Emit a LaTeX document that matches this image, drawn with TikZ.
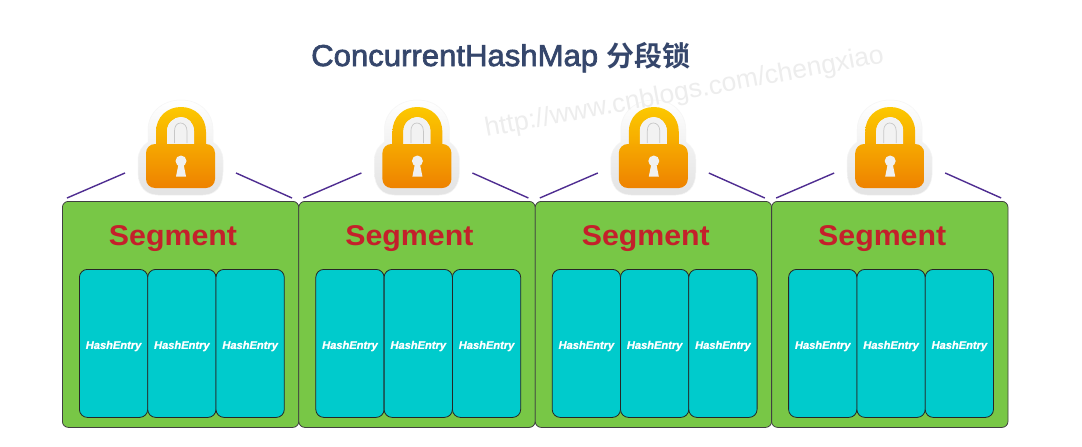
\documentclass[tikz,border=0pt]{standalone}
\usepackage{fontspec}
\setmainfont{Liberation Sans}
\newfontfamily\titlefont[FakeBold=2.2,FakeStretch=1.03]{Liberation Sans}
\newfontfamily\cjkfont{Noto Sans CJK SC Bold}
\newfontfamily\segfont[FakeStretch=1.06,BoldFont={Liberation Sans Bold}]{Liberation Sans Bold}
\newfontfamily\entryfont[FakeBold=1.2]{Liberation Sans Bold Italic}
\newcommand{\entrytext}{\raisebox{-5.5pt}[0pt][0pt]{HashEntry}}
\usetikzlibrary{calc}
\definecolor{segfill}{HTML}{78C746}
\definecolor{entryfill}{HTML}{00CBCC}
\definecolor{segred}{HTML}{C4202B}
\definecolor{titlecol}{HTML}{35466B}
\definecolor{linkcol}{HTML}{4F2D91}
\definecolor{markcol}{HTML}{EDEDED}
\definecolor{locka}{HTML}{FCC800}
\definecolor{lockb}{HTML}{F6A800}
\definecolor{lockc}{HTML}{EE8200}
\tikzset{
  segbox/.style={draw=black!75,line width=0.8pt,fill=segfill,rounded corners=6pt,minimum width=236.4pt,minimum height=226pt,inner sep=0pt,anchor=north west},
  entrybox/.style={draw=black!85,line width=0.8pt,fill=entryfill,rounded corners=8pt,minimum width=68.3pt,minimum height=148pt,inner sep=0pt,anchor=north west,
    text=white,font=\fontsize{11.1pt}{12pt}\entryfont},
  seglabel/.style={text=segred,font=\fontsize{28.6pt}{32pt}\segfont,inner sep=0pt},
  linkline/.style={draw=linkcol,line width=1.4pt},
  halo/.style={top color=white,bottom color=black!11,draw=black!4,line width=0.5pt},
  lockbody/.style={top color=lockb,bottom color=lockc},
  shackle/.style={top color=locka,bottom color=lockb},
}
\begin{document}
\begin{tikzpicture}[x=1pt,y=-1pt]
\useasboundingbox (0,0) rectangle (1082,447);
\fill[white] (0,0) rectangle (1082,447);
\node[text=titlecol,inner sep=0pt,anchor=base west] (title) at (311,66) {\fontsize{30.2pt}{32pt}\titlefont ConcurrentHashMap\hspace{0.28em}\fontsize{28pt}{32pt}\cjkfont 分段锁};
\foreach \n/\d in {1/0,2/236.4,3/472.8,4/709.2}{
  \node[segbox] (seg\n) at (62+\d,201) {};
  \node[seglabel] (label\n) at (173+\d,239) {Segment};
  \node[entrybox] (ea\n) at (79+\d,269) {\entrytext};
  \node[entrybox] (eb\n) at (147.3+\d,269) {\entrytext};
  \node[entrybox] (ec\n) at (215.6+\d,269) {\entrytext};
  \begin{scope}[xshift=\d pt]
    % halo
    \path[halo] (138,172) -- (138,160) .. controls (138,152) and (142,146) .. (148,142)
      -- (148,130) .. controls (148,112) and (163,100) .. (181,100) .. controls (199,100) and (213,112) .. (213,130)
      -- (213,142) .. controls (219,146) and (223,152) .. (223,160) -- (223,172)
      .. controls (223,187) and (215,195) .. (203,195) -- (158,195) .. controls (146,195) and (138,187) .. (138,172) -- cycle;
    % shackle
    \path[shackle] (156,146) -- (156,132) .. controls (156,117) and (167,107) .. (181,107) .. controls (195,107) and (206,117) .. (206,132) -- (206,146) -- (194,146) -- (194,131)
      .. controls (194,123) and (188,117) .. (181,117) .. controls (174,117) and (167,123) .. (167,131) -- (167,146) -- cycle;
    \fill[black!5] (167,144) -- (167,131) .. controls (167,123) and (174,117) .. (181,117) .. controls (188,117) and (194,123) .. (194,131) -- (194,144) -- cycle;
    \draw[black!22,line width=0.7pt] (174.5,143) -- (174.5,131) .. controls (174.5,126) and (177,123) .. (180.5,123) .. controls (184,123) and (187,126) .. (187,131) -- (187,143);
    % body
    \path[lockbody,rounded corners=9pt] (146,144) rectangle (215,188);
    % keyhole
    \fill[black!6] (181,161) circle (5.5pt);
    \fill[black!6] (178.5,164) -- (183.5,164) -- (186,176.5) -- (176,176.5) -- cycle;
  \end{scope}
  \coordinate (la\n) at (67+\d,198);
  \coordinate (lb\n) at (125+\d,173);
  \coordinate (ra\n) at (236+\d,173);
  \coordinate (rb\n) at (292+\d,198);
  \draw[linkline] (la\n) -- (lb\n);
  \draw[linkline] (ra\n) -- (rb\n);
}
\node[text=markcol,rotate=10.6,font=\fontsize{26.4pt}{28pt}\selectfont,inner sep=0pt] (mark) at (684.5,93) {http://www.cnblogs.com/chengxiao};
\end{tikzpicture}
\end{document}
